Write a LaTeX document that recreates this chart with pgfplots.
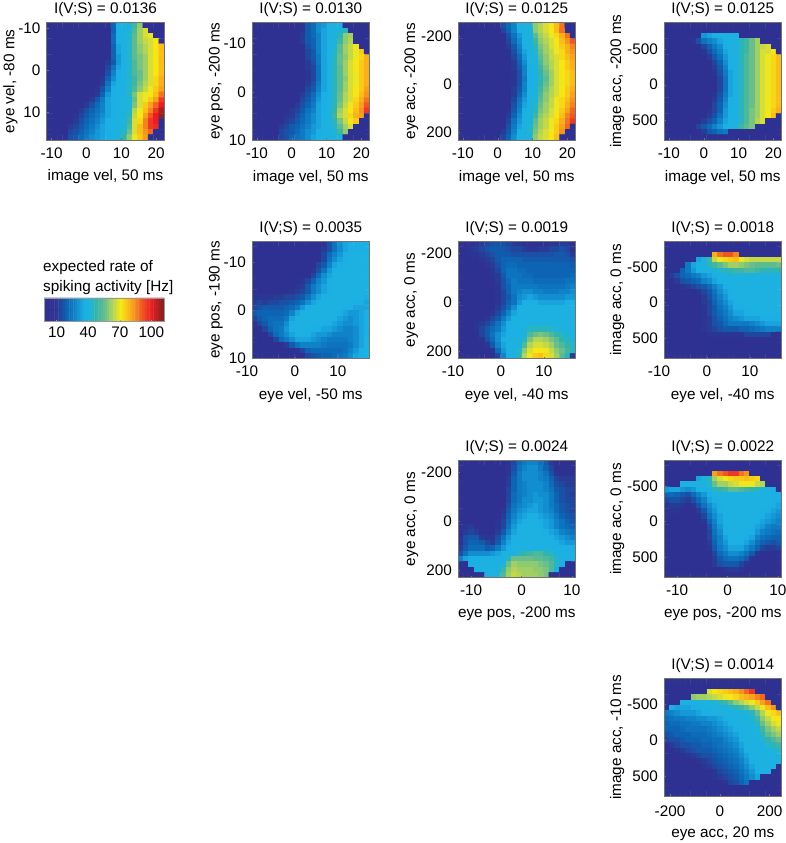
\documentclass[border=0pt]{standalone}
\usepackage{fontspec}
\setmainfont{Liberation Sans}
\usepackage{pgfplots}
\pgfplotsset{compat=1.18}

\pgfplotsset{
  colormap={ref}{
    rgb255(0pt)=(46,49,146); rgb255(10pt)=(46,49,146); rgb255(14pt)=(40,60,150);
    rgb255(22pt)=(13,100,180); rgb255(30pt)=(15,130,200); rgb255(38pt)=(28,175,230);
    rgb255(44pt)=(30,180,215); rgb255(50pt)=(50,180,170); rgb255(58pt)=(105,190,140);
    rgb255(64pt)=(160,208,100); rgb255(70pt)=(215,222,55); rgb255(73pt)=(246,235,20);
    rgb255(80pt)=(250,190,25); rgb255(86pt)=(247,148,30); rgb255(94pt)=(240,85,35);
    rgb255(102pt)=(237,28,36); rgb255(114pt)=(130,35,30)
  },
  every axis title shift=0pt,
  panel/.style={
    anchor=south west, scale only axis, width=117.5pt, height=117.5pt,
    y dir=reverse, colormap name=ref, point meta min=-2, point meta max=112,
    axis on top, tick align=inside, tick pos=left, major tick length=2pt,
    axis line style={black!55, line width=0.5pt}, tick style={black!55, line width=0.4pt},
    /pgf/number format/assume math mode=true,
    tick label style={font=\labfont, inner sep=0pt},
    yticklabel style={anchor=east, xshift=-6pt},
    title style={font=\labfont, at={(axis description cs:0.5,1.077)}, anchor=base, inner sep=0pt},
    xlabel style={font=\labfont, at={(axis description cs:0.5,-0.349)}, anchor=base, inner sep=0pt},
    ylabel style={font=\labfont, anchor=base, inner sep=0pt},
  },
  col1/.style={ylabel style={at={(axis description cs:-0.275,0.5)}}},
  col3/.style={ylabel style={at={(axis description cs:-0.366,0.5)}}},
  high/.style={xticklabel style={anchor=base, yshift=-19pt}},
  low/.style={xticklabel style={anchor=base, yshift=-18pt}},
}
\newcommand{\labfont}{\fontsize{15.3}{18}\selectfont}

% #1 xmin, #2 xmax, #3 ymin, #4 ymax, #5 cols, #6 rows, #7 list of rows
\newcommand{\heat}[7]{%
  \pgfmathsetmacro\dxx{(#2-#1)/#5}%
  \pgfmathsetmacro\dyy{(#4-#3)/#6}%
  \gdef\hmcoords{}%
  \foreach \row [count=\j from 0] in {#7} {%
    \foreach \v [count=\i from 0] in \row {%
      \pgfmathsetmacro\xx{#1+(\i+0.5)*\dxx}%
      \pgfmathsetmacro\yy{#3+(\j+0.5)*\dyy}%
      \xdef\hmcoords{\hmcoords (\xx,\yy) [\v]}%
    }%
  }%
  \edef\doplot{\noexpand\addplot[matrix plot*, mesh/cols=#5, point meta=explicit] coordinates {\hmcoords};}%
  \doplot
}

\begin{document}
\begin{tikzpicture}
\useasboundingbox (0,0) rectangle (785pt,843pt);

% row 1
\begin{axis}[panel, col1, high, at={(46.7pt,703pt)}, xmin=-11.4, xmax=22.3, ymin=-11.3, ymax=16.7,
  xtick={-10,0,10,20}, ytick={-10,0,10},
  title={I(V;S) = 0.0136}, xlabel={image vel, 50 ms}, ylabel={eye vel, -80 ms}]
\heat{-11.4}{22.3}{-11.3}{16.7}{22}{22}{
{5,5,5,5,5,5,5,5,5,5,5,5,20,36,38,40,50,60,5,5,5,5},
{5,5,5,5,5,5,5,5,5,5,5,5,20,36,38,42,52,62,68,5,5,5},
{5,5,5,5,5,5,5,5,5,5,5,5,22,36,38,44,54,62,68,70,5,5},
{5,5,5,5,5,5,5,5,5,5,5,5,22,36,38,44,54,62,66,68,72,5},
{5,5,5,5,5,5,5,5,5,5,5,5,20,34,38,44,54,60,64,68,72,78},
{5,5,5,5,5,5,5,5,5,5,5,5,20,34,38,44,54,60,64,68,72,78},
{5,5,5,5,5,5,5,5,5,5,5,5,20,32,38,44,54,58,62,68,72,78},
{5,5,5,5,5,5,5,5,5,5,5,12,18,32,38,44,52,58,62,68,72,78},
{5,5,5,5,5,5,5,5,5,5,5,14,24,34,38,44,52,58,62,68,72,78},
{5,5,5,5,5,5,5,5,5,5,5,16,28,36,38,44,52,56,62,68,72,78},
{5,5,5,5,5,5,5,5,5,5,10,20,30,36,38,44,50,56,62,68,74,80},
{5,5,5,5,5,5,5,5,5,5,12,24,34,38,38,44,50,58,64,68,74,80},
{5,5,5,5,5,5,5,5,5,10,16,28,36,38,38,44,52,60,66,70,76,82},
{5,5,5,5,5,5,5,5,8,12,20,32,36,38,38,46,58,68,70,72,78,88},
{5,5,5,5,5,5,5,8,12,18,26,34,36,38,38,42,56,68,70,76,82,96},
{5,5,5,5,5,5,8,12,16,22,28,34,36,38,38,42,58,68,76,82,90,100},
{5,5,5,5,5,8,12,16,20,24,28,34,36,38,40,44,64,70,78,86,96,108},
{5,5,5,5,5,10,14,18,22,26,30,34,36,38,40,46,66,72,82,92,100,110},
{5,5,5,5,8,12,16,20,24,28,32,36,38,38,42,50,68,74,86,96,100,5},
{5,5,5,5,12,14,18,22,26,30,34,36,38,38,42,52,68,78,86,96,98,5},
{5,5,5,5,14,16,20,24,28,32,34,36,38,38,44,56,68,78,84,90,5,5},
{5,5,5,5,16,18,22,26,30,32,34,36,36,40,48,60,70,76,82,5,5,5}}
\end{axis}

\begin{axis}[panel, col1, high, at={(252pt,703pt)}, xmin=-11.4, xmax=22.3, ymin=-14.4, ymax=10,
  xtick={-10,0,10,20}, ytick={-10,0,10},
  title={I(V;S) = 0.0130}, xlabel={image vel, 50 ms}, ylabel={eye pos, -200 ms}]
\heat{-11.4}{22.3}{-14.4}{10}{22}{22}{
{5,5,5,5,5,5,5,5,5,10,18,22,30,32,38,38,38,5,5,5,5,5},
{5,5,5,5,5,5,5,5,5,10,18,22,30,34,38,38,40,46,5,5,5,5},
{5,5,5,5,5,5,5,5,5,12,18,22,28,34,38,40,46,60,62,5,5,5},
{5,5,5,5,5,5,5,5,5,12,18,20,28,34,38,40,50,60,64,5,5,5},
{5,5,5,5,5,5,5,5,5,8,16,20,28,34,38,42,54,62,66,70,5,5},
{5,5,5,5,5,5,5,5,5,8,14,18,28,34,38,44,54,62,66,70,76,5},
{5,5,5,5,5,5,5,5,5,5,14,18,26,34,38,44,56,60,66,70,74,80},
{5,5,5,5,5,5,5,5,5,5,12,16,26,34,38,46,56,62,68,72,76,80},
{5,5,5,5,5,5,5,5,5,5,12,14,24,34,38,46,54,62,68,72,76,80},
{5,5,5,5,5,5,5,5,5,5,10,14,24,34,38,46,54,62,68,70,76,80},
{5,5,5,5,5,5,5,5,5,5,10,14,24,34,38,46,54,60,68,70,76,80},
{5,5,5,5,5,5,5,5,5,5,12,16,26,34,38,46,54,62,68,70,76,80},
{5,5,5,5,5,5,5,5,5,8,14,18,28,34,38,46,54,62,68,72,76,82},
{5,5,5,5,5,5,5,5,5,12,16,22,30,36,38,46,56,64,68,72,78,84},
{5,5,5,5,5,5,5,5,8,14,18,24,32,36,38,46,56,64,68,74,80,88},
{5,5,5,5,5,5,5,8,12,16,20,26,34,36,40,46,58,66,70,76,82,92},
{5,5,5,5,5,5,8,12,14,18,24,28,34,36,40,48,62,68,72,78,84,96},
{5,5,5,5,5,5,10,12,16,20,26,30,34,38,40,50,64,68,74,80,82,5},
{5,5,5,5,5,8,12,14,18,22,26,30,34,38,40,46,58,66,72,76,5,5},
{5,5,5,5,5,12,14,18,20,24,28,32,34,38,38,44,54,62,68,5,5,5},
{5,5,5,5,5,14,16,18,22,26,30,32,36,38,38,42,50,60,5,5,5,5},
{5,5,5,5,5,14,16,20,24,26,30,34,36,38,38,38,40,5,5,5,5,5}}
\end{axis}

\begin{axis}[panel, col3, high, at={(458pt,703pt)}, xmin=-11.4, xmax=22.3, ymin=-259, ymax=233,
  xtick={-10,0,10,20}, ytick={-200,0,200},
  title={I(V;S) = 0.0125}, xlabel={image vel, 50 ms}, ylabel={eye acc, -200 ms}]
\heat{-11.4}{22.3}{-259}{233}{22}{22}{
{5,5,5,5,5,5,5,5,16,22,28,38,38,38,60,64,68,72,78,88,5,5},
{5,5,5,5,5,5,5,5,14,20,28,36,38,40,60,64,68,72,78,88,5,5},
{5,5,5,5,5,5,5,5,5,16,24,32,38,40,54,62,66,70,74,80,88,5},
{5,5,5,5,5,5,5,5,5,14,22,30,38,38,50,60,64,68,72,78,84,92},
{5,5,5,5,5,5,5,5,5,12,18,28,36,38,46,58,62,68,70,76,80,86},
{5,5,5,5,5,5,5,5,5,5,16,26,34,38,44,56,62,66,70,74,80,84},
{5,5,5,5,5,5,5,5,5,5,14,22,32,38,42,54,60,66,68,74,78,82},
{5,5,5,5,5,5,5,5,5,5,12,20,30,38,40,52,60,64,68,72,76,80},
{5,5,5,5,5,5,5,5,5,5,12,18,28,36,38,50,58,64,68,72,76,80},
{5,5,5,5,5,5,5,5,5,5,10,16,28,36,38,48,56,62,68,72,74,78},
{5,5,5,5,5,5,5,5,5,5,10,16,26,36,38,46,54,62,68,72,74,78},
{5,5,5,5,5,5,5,5,5,5,10,16,28,36,38,48,56,62,68,70,74,78},
{5,5,5,5,5,5,5,5,5,5,12,18,28,36,38,50,58,64,68,72,76,80},
{5,5,5,5,5,5,5,5,5,5,12,20,30,38,40,52,60,64,68,72,76,82},
{5,5,5,5,5,5,5,5,5,5,14,24,32,38,42,54,60,66,70,74,78,84},
{5,5,5,5,5,5,5,5,5,8,16,26,34,38,44,56,62,66,70,74,80,86},
{5,5,5,5,5,5,5,5,5,10,18,28,36,38,46,58,62,68,70,76,82,90},
{5,5,5,5,5,5,5,5,5,12,20,30,38,40,50,60,64,68,72,78,86,92},
{5,5,5,5,5,5,5,5,5,14,24,32,38,40,54,62,66,70,74,80,88,96},
{5,5,5,5,5,5,5,5,8,16,26,34,38,42,56,62,66,70,76,82,90,5},
{5,5,5,5,5,5,5,5,12,18,28,36,38,44,58,64,68,72,76,84,5,5},
{5,5,5,5,5,5,5,5,14,20,30,38,38,40,60,66,68,72,78,5,5,5}}
\end{axis}

\begin{axis}[panel, col3, high, at={(664pt,703pt)}, xmin=-11.4, xmax=22.3, ymin=-867, ymax=770,
  xtick={-10,0,10,20}, ytick={-500,0,500},
  title={I(V;S) = 0.0125}, xlabel={image vel, 50 ms}, ylabel={image acc, -200 ms}]
\heat{-11.4}{22.3}{-867}{770}{22}{22}{
{5,5,5,5,5,5,5,5,5,5,5,5,5,5,5,5,5,5,5,5,5,5},
{5,5,5,5,5,5,5,5,5,5,5,5,5,5,5,5,5,5,5,5,5,5},
{5,5,5,5,5,5,5,32,34,36,38,38,38,38,5,5,5,5,5,5,5,5},
{5,5,5,5,5,10,16,24,28,30,34,36,38,38,46,50,56,62,5,5,5,5},
{5,5,5,5,5,5,8,14,20,26,30,36,38,38,46,50,56,62,66,68,5,5},
{5,5,5,5,5,5,5,10,16,22,28,34,38,38,46,50,56,62,68,68,72,5},
{5,5,5,5,5,5,5,5,12,18,24,32,36,38,46,52,56,62,68,70,74,78},
{5,5,5,5,5,5,5,5,8,14,20,30,36,38,46,52,56,62,68,70,74,78},
{5,5,5,5,5,5,5,5,5,12,18,28,36,38,46,52,56,62,68,70,74,78},
{5,5,5,5,5,5,5,5,5,10,16,26,34,38,46,52,56,62,68,70,74,78},
{5,5,5,5,5,5,5,5,5,5,14,24,34,38,46,52,56,62,68,70,74,78},
{5,5,5,5,5,5,5,5,5,5,14,24,34,38,46,52,56,62,68,70,74,78},
{5,5,5,5,5,5,5,5,5,5,14,24,34,38,46,52,56,62,68,70,74,78},
{5,5,5,5,5,5,5,5,5,10,16,26,34,38,46,52,56,62,68,70,74,78},
{5,5,5,5,5,5,5,5,5,12,18,28,36,38,46,52,56,62,68,70,74,78},
{5,5,5,5,5,5,5,5,8,14,20,30,36,38,46,52,56,62,68,70,74,78},
{5,5,5,5,5,5,5,5,10,14,20,32,36,38,46,52,58,62,68,70,76,80},
{5,5,5,5,5,5,5,8,12,16,24,32,36,38,46,52,58,62,68,72,78,5},
{5,5,5,5,5,5,8,12,16,20,28,34,38,38,46,52,58,64,68,5,5,5},
{5,5,5,5,5,8,14,18,22,28,32,36,38,42,50,54,58,5,5,5,5,5},
{5,5,5,5,5,5,5,12,18,20,24,26,5,5,5,5,5,5,5,5,5,5},
{5,5,5,5,5,5,5,5,5,5,5,5,5,5,5,5,5,5,5,5,5,5}}
\end{axis}

% colour bar
\node[anchor=base west, font=\labfont, inner sep=0pt] at (43pt,571pt) {expected rate of};
\node[anchor=base west, font=\labfont, inner sep=0pt] at (43pt,551.3pt) {spiking activity [Hz]};
\begin{axis}[anchor=south west, scale only axis, at={(44pt,521.3pt)}, width=120pt, height=23.7pt,
  xmin=-2, xmax=112, ymin=0, ymax=2, ytick=\empty, xtick={10,40,70,100},
  colormap name=ref, point meta min=-2, point meta max=112,
  axis on top, tick align=inside, tick pos=left, major tick length=2pt,
  axis line style={black!40, line width=0.4pt}, tick style={black!40, line width=0.4pt},
  /pgf/number format/assume math mode=true,
  tick label style={font=\labfont, inner sep=0pt},
  xticklabel style={anchor=base, yshift=-16.3pt}]
\heat{-2}{112}{0}{2}{57}{2}{
{-1,1,3,5,7,9,11,13,15,17,19,21,23,25,27,29,31,33,35,37,39,41,43,45,47,49,51,53,55,57,59,61,63,65,67,69,71,73,75,77,79,81,83,85,87,89,91,93,95,97,99,101,103,105,107,109,111},
{-1,1,3,5,7,9,11,13,15,17,19,21,23,25,27,29,31,33,35,37,39,41,43,45,47,49,51,53,55,57,59,61,63,65,67,69,71,73,75,77,79,81,83,85,87,89,91,93,95,97,99,101,103,105,107,109,111}}
\end{axis}

% row 2
\begin{axis}[panel, col1, low, at={(252pt,484.3pt)}, xmin=-10, xmax=17.4, ymin=-14.3, ymax=10,
  xtick={-10,0,10}, xticklabels={\hspace*{-10pt}-10,0,10}, ytick={-10,0,10},
  title={I(V;S) = 0.0035}, xlabel={eye vel, -50 ms}, ylabel={eye pos, -190 ms}]
\heat{-10}{17.4}{-14.3}{10}{22}{22}{
{5,5,5,5,5,5,5,5,5,5,5,5,5,5,16,24,30,34,36,36,36,36},
{5,5,5,5,5,5,5,5,5,5,5,5,5,12,16,24,30,34,36,36,36,36},
{5,5,5,5,5,5,5,5,5,5,5,5,5,14,22,28,32,36,38,38,38,38},
{5,5,5,5,5,5,5,5,5,5,5,5,8,14,24,30,34,36,38,38,38,38},
{5,5,5,5,5,5,5,5,5,5,5,5,14,18,28,34,36,38,38,38,38,38},
{5,5,5,5,5,5,5,5,5,5,5,10,16,24,32,36,38,38,38,38,38,38},
{5,5,5,5,5,5,5,5,5,5,8,14,22,30,34,38,38,38,38,38,38,38},
{5,5,5,5,5,5,5,5,5,10,14,20,28,32,36,38,38,38,38,38,38,38},
{5,5,5,5,5,5,5,5,10,12,18,26,30,34,36,38,38,38,38,38,38,38},
{5,5,5,5,5,8,8,10,12,14,18,26,30,34,36,38,38,38,38,38,38,38},
{8,10,10,10,12,12,14,14,16,18,24,30,34,38,38,38,38,38,38,38,38,36},
{12,14,12,14,14,16,16,18,20,24,30,34,38,38,38,38,38,38,38,36,36,34},
{14,16,18,18,18,18,20,22,26,32,36,38,38,38,38,38,38,36,36,34,34,34},
{18,20,20,20,20,20,22,28,34,38,38,38,38,38,38,38,36,34,32,32,34,36},
{14,18,20,22,22,22,26,34,38,38,38,38,38,38,38,36,34,32,30,32,34,36},
{5,14,18,22,24,24,30,36,38,38,38,38,38,36,36,34,32,30,30,32,34,36},
{5,5,14,20,24,26,32,36,38,38,38,36,36,34,34,32,30,28,28,30,34,36},
{5,5,5,14,22,26,30,34,36,38,36,34,32,32,30,28,28,28,28,30,34,36},
{5,5,5,5,14,22,26,30,34,34,34,32,30,28,26,26,26,26,28,30,34,38},
{5,5,5,5,5,5,12,18,24,28,28,28,28,26,24,24,24,24,26,30,34,38},
{5,5,5,5,5,5,5,5,10,14,20,22,22,22,22,22,22,24,28,32,36,38},
{5,5,5,5,5,5,5,5,5,8,14,16,18,20,20,22,24,26,30,34,36,38}}
\end{axis}

\begin{axis}[panel, col3, low, at={(458pt,484.3pt)}, xmin=-10, xmax=17.4, ymin=-251, ymax=232,
  xtick={-10,0,10}, xticklabels={\hspace*{-10pt}-10,0,10}, ytick={-200,0,200},
  title={I(V;S) = 0.0019}, xlabel={eye vel, -40 ms}, ylabel={eye acc, 0 ms}]
\heat{-10}{17.4}{-251}{232}{22}{22}{
{5,5,8,10,12,14,16,16,16,14,12,10,8,8,8,8,8,10,10,12,12,5},
{5,8,10,12,14,16,18,18,18,16,14,14,12,10,10,12,12,14,14,16,14,5},
{5,8,10,10,12,14,16,18,18,18,16,16,16,16,16,16,16,16,18,18,16,12},
{5,5,8,8,10,12,14,18,20,20,20,20,18,18,18,18,18,18,18,18,18,16},
{5,5,5,5,8,10,12,16,20,22,22,20,20,20,20,20,20,20,20,20,20,18},
{5,5,5,5,5,8,10,14,20,24,24,22,22,20,20,20,20,20,20,20,20,20},
{5,5,5,5,5,8,10,12,18,24,24,24,22,22,20,20,20,20,20,20,20,22},
{5,5,5,5,5,5,8,12,16,22,26,24,24,24,22,22,22,22,22,22,24,24},
{5,5,5,5,5,5,8,10,16,20,26,26,26,26,26,24,24,24,24,24,26,28},
{5,5,5,5,5,5,8,10,14,20,26,28,30,30,28,28,26,26,26,28,28,30},
{5,5,5,5,5,5,8,10,14,18,24,30,32,34,32,30,30,30,30,30,32,32},
{5,5,5,5,5,5,8,10,14,20,24,32,36,36,36,34,34,34,34,34,36,36},
{5,5,5,5,5,5,8,12,16,22,30,36,38,38,38,38,38,38,38,38,38,38},
{8,5,5,5,5,8,10,14,20,28,34,38,38,38,38,38,38,38,38,38,38,38},
{8,8,8,8,8,10,14,18,26,32,38,38,38,38,38,38,38,38,38,38,38,38},
{5,8,8,10,12,14,18,24,30,36,38,38,38,38,38,38,38,38,38,38,38,38},
{5,5,8,10,14,18,22,26,32,36,38,38,38,44,46,46,46,44,42,40,38,38},
{5,5,5,8,14,18,24,30,34,36,38,38,40,52,56,58,56,52,48,44,40,38},
{5,5,5,5,10,16,22,30,36,38,38,38,44,58,64,64,62,58,54,48,44,40},
{5,5,5,5,5,10,18,28,34,38,38,40,52,64,68,68,66,62,56,52,48,44},
{5,5,5,5,5,5,10,22,32,38,38,44,60,68,72,72,70,66,60,56,50,46},
{5,5,5,5,5,5,5,14,28,36,38,46,64,70,76,78,74,68,62,54,46,12}}
\end{axis}

\begin{axis}[panel, col3, low, at={(664pt,484.3pt)}, xmin=-10, xmax=17.4, ymin=-863, ymax=787,
  xtick={-10,0,10}, xticklabels={\hspace*{-10pt}-10,0,10}, ytick={-500,0,500},
  title={I(V;S) = 0.0018}, xlabel={eye vel, -40 ms}, ylabel={image acc, 0 ms}]
\heat{-10}{17.4}{-863}{787}{22}{22}{
{5,5,5,5,5,5,5,5,5,5,5,5,5,5,5,5,5,5,5,5,5,5},
{5,5,5,5,5,5,5,5,5,5,5,5,5,5,5,5,5,5,5,5,5,5},
{5,5,5,5,5,5,5,5,5,80,88,92,92,86,5,5,5,5,5,5,5,5},
{5,5,5,5,5,5,34,38,50,66,70,74,76,78,70,68,66,66,66,66,66,66},
{5,5,5,5,26,34,38,38,46,50,54,58,62,62,60,58,56,54,54,54,54,56},
{5,5,5,20,26,32,36,38,38,40,44,46,48,50,50,52,52,50,48,46,46,48},
{5,12,16,20,22,26,28,32,34,36,38,38,40,42,40,38,38,38,38,38,38,38},
{5,8,12,16,18,20,22,28,30,34,38,38,38,38,38,38,38,38,38,38,38,38},
{5,5,8,10,12,14,16,18,22,28,32,36,38,38,38,38,38,38,38,38,38,38},
{5,5,5,8,8,8,10,14,18,24,30,34,36,38,38,38,38,38,38,38,38,38},
{5,5,5,5,5,5,8,12,16,22,28,32,36,38,38,38,38,38,38,38,38,38},
{5,5,5,5,5,5,8,12,14,20,26,30,34,36,38,38,38,38,38,38,38,38},
{5,5,5,5,5,5,8,10,14,18,24,28,32,36,36,38,38,38,38,38,38,38},
{5,5,5,5,5,5,5,10,14,18,22,26,30,34,34,36,36,38,38,38,38,38},
{5,5,5,5,5,5,5,10,12,16,20,24,28,30,32,34,34,34,36,36,36,36},
{5,5,5,5,5,5,5,10,12,16,18,22,26,26,26,26,28,30,32,34,34,34},
{5,5,5,5,5,5,5,10,12,14,16,18,18,18,20,20,22,24,26,28,28,28},
{5,5,5,5,5,5,5,8,10,10,10,10,10,10,10,14,14,14,14,14,8,8},
{5,5,5,5,5,5,5,5,8,8,8,8,8,8,8,8,8,8,8,8,5,5},
{5,5,5,5,5,5,5,5,5,5,8,8,8,8,8,8,8,8,8,5,5,5},
{5,5,5,5,5,5,5,5,5,5,5,5,5,5,5,5,5,5,5,5,5,5},
{5,5,5,5,5,5,5,5,5,5,5,5,5,5,5,5,5,5,5,5,5,5}}
\end{axis}

% row 3
\begin{axis}[panel, col3, low, at={(458pt,265.3pt)}, xmin=-12.6, xmax=10.7, ymin=-248, ymax=232,
  xtick={-10,0,10}, ytick={-200,0,200},
  xlabel style={at={(axis description cs:0.5,-0.34)}},
  title={I(V;S) = 0.0024}, xlabel={eye pos, -200 ms}, ylabel={eye acc, 0 ms}]
\heat{-12.6}{10.7}{-248}{232}{22}{22}{
{5,5,5,5,5,5,5,5,5,10,14,22,26,28,28,24,18,12,5,5,5,5},
{5,5,5,5,5,5,5,5,5,10,16,24,28,30,30,26,20,14,8,5,5,5},
{5,5,5,5,5,5,5,5,5,10,18,26,30,30,30,28,24,16,10,8,8,8},
{5,5,5,5,5,5,5,5,5,12,20,26,30,30,30,28,26,20,14,12,12,12},
{5,5,5,5,5,5,5,5,5,12,20,26,28,30,30,30,28,22,16,14,12,12},
{5,5,5,5,5,5,5,5,5,14,20,26,28,30,30,30,28,24,18,16,14,14},
{5,5,5,5,5,5,5,5,5,14,22,26,28,30,32,30,30,26,20,16,14,12},
{5,5,5,5,5,5,5,5,5,14,22,26,30,30,32,32,30,26,20,16,14,14},
{5,5,5,5,5,5,5,5,5,16,24,28,30,32,34,32,30,26,22,18,16,14},
{5,5,5,5,5,5,5,5,10,18,26,30,32,34,34,32,30,28,22,18,16,14},
{5,5,5,5,5,5,5,5,12,20,28,32,34,36,36,34,32,30,26,20,18,16},
{5,5,5,5,5,5,5,10,14,22,30,34,36,38,38,36,34,32,28,24,20,18},
{5,10,12,8,5,5,5,10,14,24,32,36,38,38,38,36,34,32,28,24,22,20},
{5,12,14,12,8,5,5,12,18,28,34,38,38,38,38,38,36,34,32,28,26,24},
{8,16,18,18,12,10,10,16,24,32,36,38,38,38,38,38,38,36,34,32,30,28},
{8,16,20,20,18,14,12,18,28,34,38,38,38,38,38,38,38,38,36,34,32,32},
{12,18,22,22,22,18,20,26,32,36,38,38,38,38,38,38,38,38,38,38,36,36},
{16,24,30,30,30,30,32,34,38,38,40,46,48,50,52,52,48,44,38,38,38,38},
{28,34,36,36,36,36,36,38,38,44,56,56,56,56,54,54,52,50,44,38,38,38},
{5,5,36,38,38,38,38,38,42,56,62,60,60,60,60,58,56,52,44,38,5,5},
{5,5,5,38,38,38,38,40,50,60,64,62,62,62,60,60,58,52,38,5,5,5},
{5,5,5,5,5,38,38,42,52,62,66,64,62,62,62,60,58,5,5,5,5,5}}
\end{axis}

\begin{axis}[panel, col3, low, at={(664pt,265.3pt)}, xmin=-12.6, xmax=10.7, ymin=-864, ymax=789,
  xtick={-10,0,10}, ytick={-500,0,500},
  xlabel style={at={(axis description cs:0.5,-0.34)}},
  title={I(V;S) = 0.0022}, xlabel={eye pos, -200 ms}, ylabel={image acc, 0 ms}]
\heat{-12.6}{10.7}{-864}{789}{22}{22}{
{5,5,5,5,5,5,5,5,5,5,5,5,5,5,5,5,5,5,5,5,5,5},
{5,5,5,5,5,5,5,5,5,5,5,5,5,5,5,5,5,5,5,5,5,5},
{5,5,5,5,5,5,5,5,5,82,88,92,96,96,88,84,5,5,5,5,5,5},
{5,5,5,5,5,5,34,38,46,62,68,72,74,76,76,78,76,74,5,5,5,5},
{5,5,5,38,38,38,38,40,44,56,62,62,66,68,70,70,70,66,64,5,5,5},
{32,34,34,32,30,32,36,38,38,44,48,50,54,54,52,50,48,44,40,38,36,5},
{20,22,20,18,16,22,28,32,36,38,38,38,38,38,38,38,38,38,38,38,36,36},
{14,16,16,14,12,16,22,28,34,36,38,38,38,38,38,38,38,38,38,38,36,36},
{10,12,12,10,8,10,16,24,30,34,36,38,38,38,38,38,38,38,38,38,36,34},
{8,10,10,8,8,8,12,18,28,32,36,38,38,38,38,38,38,38,36,36,34,32},
{5,5,5,5,5,5,8,14,24,30,34,38,38,38,38,38,38,38,36,34,32,30},
{5,5,5,5,5,5,5,10,20,28,34,38,38,38,38,38,38,36,34,32,30,28},
{5,5,5,5,5,5,5,8,16,26,32,36,38,38,38,38,36,34,32,28,26,26},
{5,5,5,5,5,5,5,5,14,24,30,36,38,38,38,36,36,32,28,26,24,22},
{5,5,5,5,5,5,5,5,14,22,28,34,36,38,36,36,34,28,24,22,20,20},
{5,5,5,5,5,5,5,5,12,20,28,32,36,36,36,34,30,24,20,18,16,18},
{5,5,5,5,5,5,5,5,10,18,26,30,34,34,34,30,26,20,14,12,12,14},
{5,5,5,5,5,5,5,5,8,14,22,26,30,30,28,24,18,10,8,8,8,8},
{5,5,5,5,5,5,5,5,8,12,18,22,24,24,22,18,10,8,5,5,5,5},
{5,5,5,5,5,5,5,5,5,12,16,18,18,18,14,10,5,5,5,5,5,5},
{5,5,5,5,5,5,5,5,5,5,8,10,12,12,10,8,5,5,5,5,5,5},
{5,5,5,5,5,5,5,5,5,5,5,5,5,5,5,5,5,5,5,5,5,5}}
\end{axis}

% row 4
\begin{axis}[panel, col3, at={(664pt,47pt)}, xmin=-224, xmax=248, ymin=-863, ymax=770,
  xtick={-200,0,200}, ytick={-500,0,500},
  xticklabel style={anchor=base, yshift=-20pt},
  xlabel style={at={(axis description cs:0.5,-0.357)}},
  title={I(V;S) = 0.0014}, xlabel={eye acc, 20 ms}, ylabel={image acc, -10 ms}]
\heat{-224}{248}{-863}{770}{22}{22}{
{5,5,5,5,5,5,5,5,5,5,5,5,5,5,5,5,5,5,5,5,5,5},
{5,5,5,5,5,5,5,5,5,5,5,5,5,5,5,5,5,5,5,5,5,5},
{5,5,5,5,5,5,5,5,68,72,74,76,78,80,84,90,96,5,5,5,5,5},
{5,5,5,5,5,60,62,62,64,66,68,70,72,74,78,80,82,86,90,5,5,5},
{5,5,5,38,38,38,38,38,40,42,46,50,54,60,64,68,70,76,82,88,5,5},
{5,36,34,34,34,36,36,38,38,38,38,40,42,46,50,54,60,66,70,78,84,5},
{26,28,30,32,32,32,34,36,36,38,38,38,38,38,38,42,46,56,64,70,74,78},
{22,24,26,26,28,28,30,30,32,32,34,36,38,38,38,38,42,50,60,66,70,72},
{20,22,22,24,24,26,26,28,28,30,32,34,36,38,38,38,40,46,56,62,68,70},
{20,20,20,22,24,24,24,24,26,28,30,32,34,36,38,38,38,42,50,58,62,66},
{16,18,20,20,20,22,22,22,24,26,28,30,32,34,38,38,38,40,46,54,58,62},
{14,16,16,18,20,20,20,22,22,24,24,28,30,32,36,38,38,38,42,48,52,56},
{8,12,14,16,16,18,18,20,20,22,24,26,28,30,34,38,38,38,38,44,46,50},
{5,8,10,12,14,16,18,18,18,20,22,24,26,28,32,36,38,38,38,38,42,44},
{5,5,8,8,10,12,14,16,16,18,20,22,24,26,30,34,38,38,38,38,38,40},
{5,5,5,5,8,8,10,12,14,16,18,20,22,24,28,32,36,38,38,38,38,38},
{5,5,5,5,5,5,8,10,12,14,16,18,20,22,26,30,34,38,38,38,38,5},
{5,5,5,5,5,5,5,8,8,10,14,16,18,20,24,28,32,36,38,38,5,5},
{5,5,5,5,5,5,5,5,8,10,12,14,16,18,22,26,30,34,5,5,5,5},
{5,5,5,5,5,5,5,5,5,5,8,10,14,16,20,24,5,5,5,5,5,5},
{5,5,5,5,5,5,5,5,5,5,5,5,5,5,5,5,5,5,5,5,5,5},
{5,5,5,5,5,5,5,5,5,5,5,5,5,5,5,5,5,5,5,5,5,5}}
\end{axis}
\end{tikzpicture}
\end{document}
